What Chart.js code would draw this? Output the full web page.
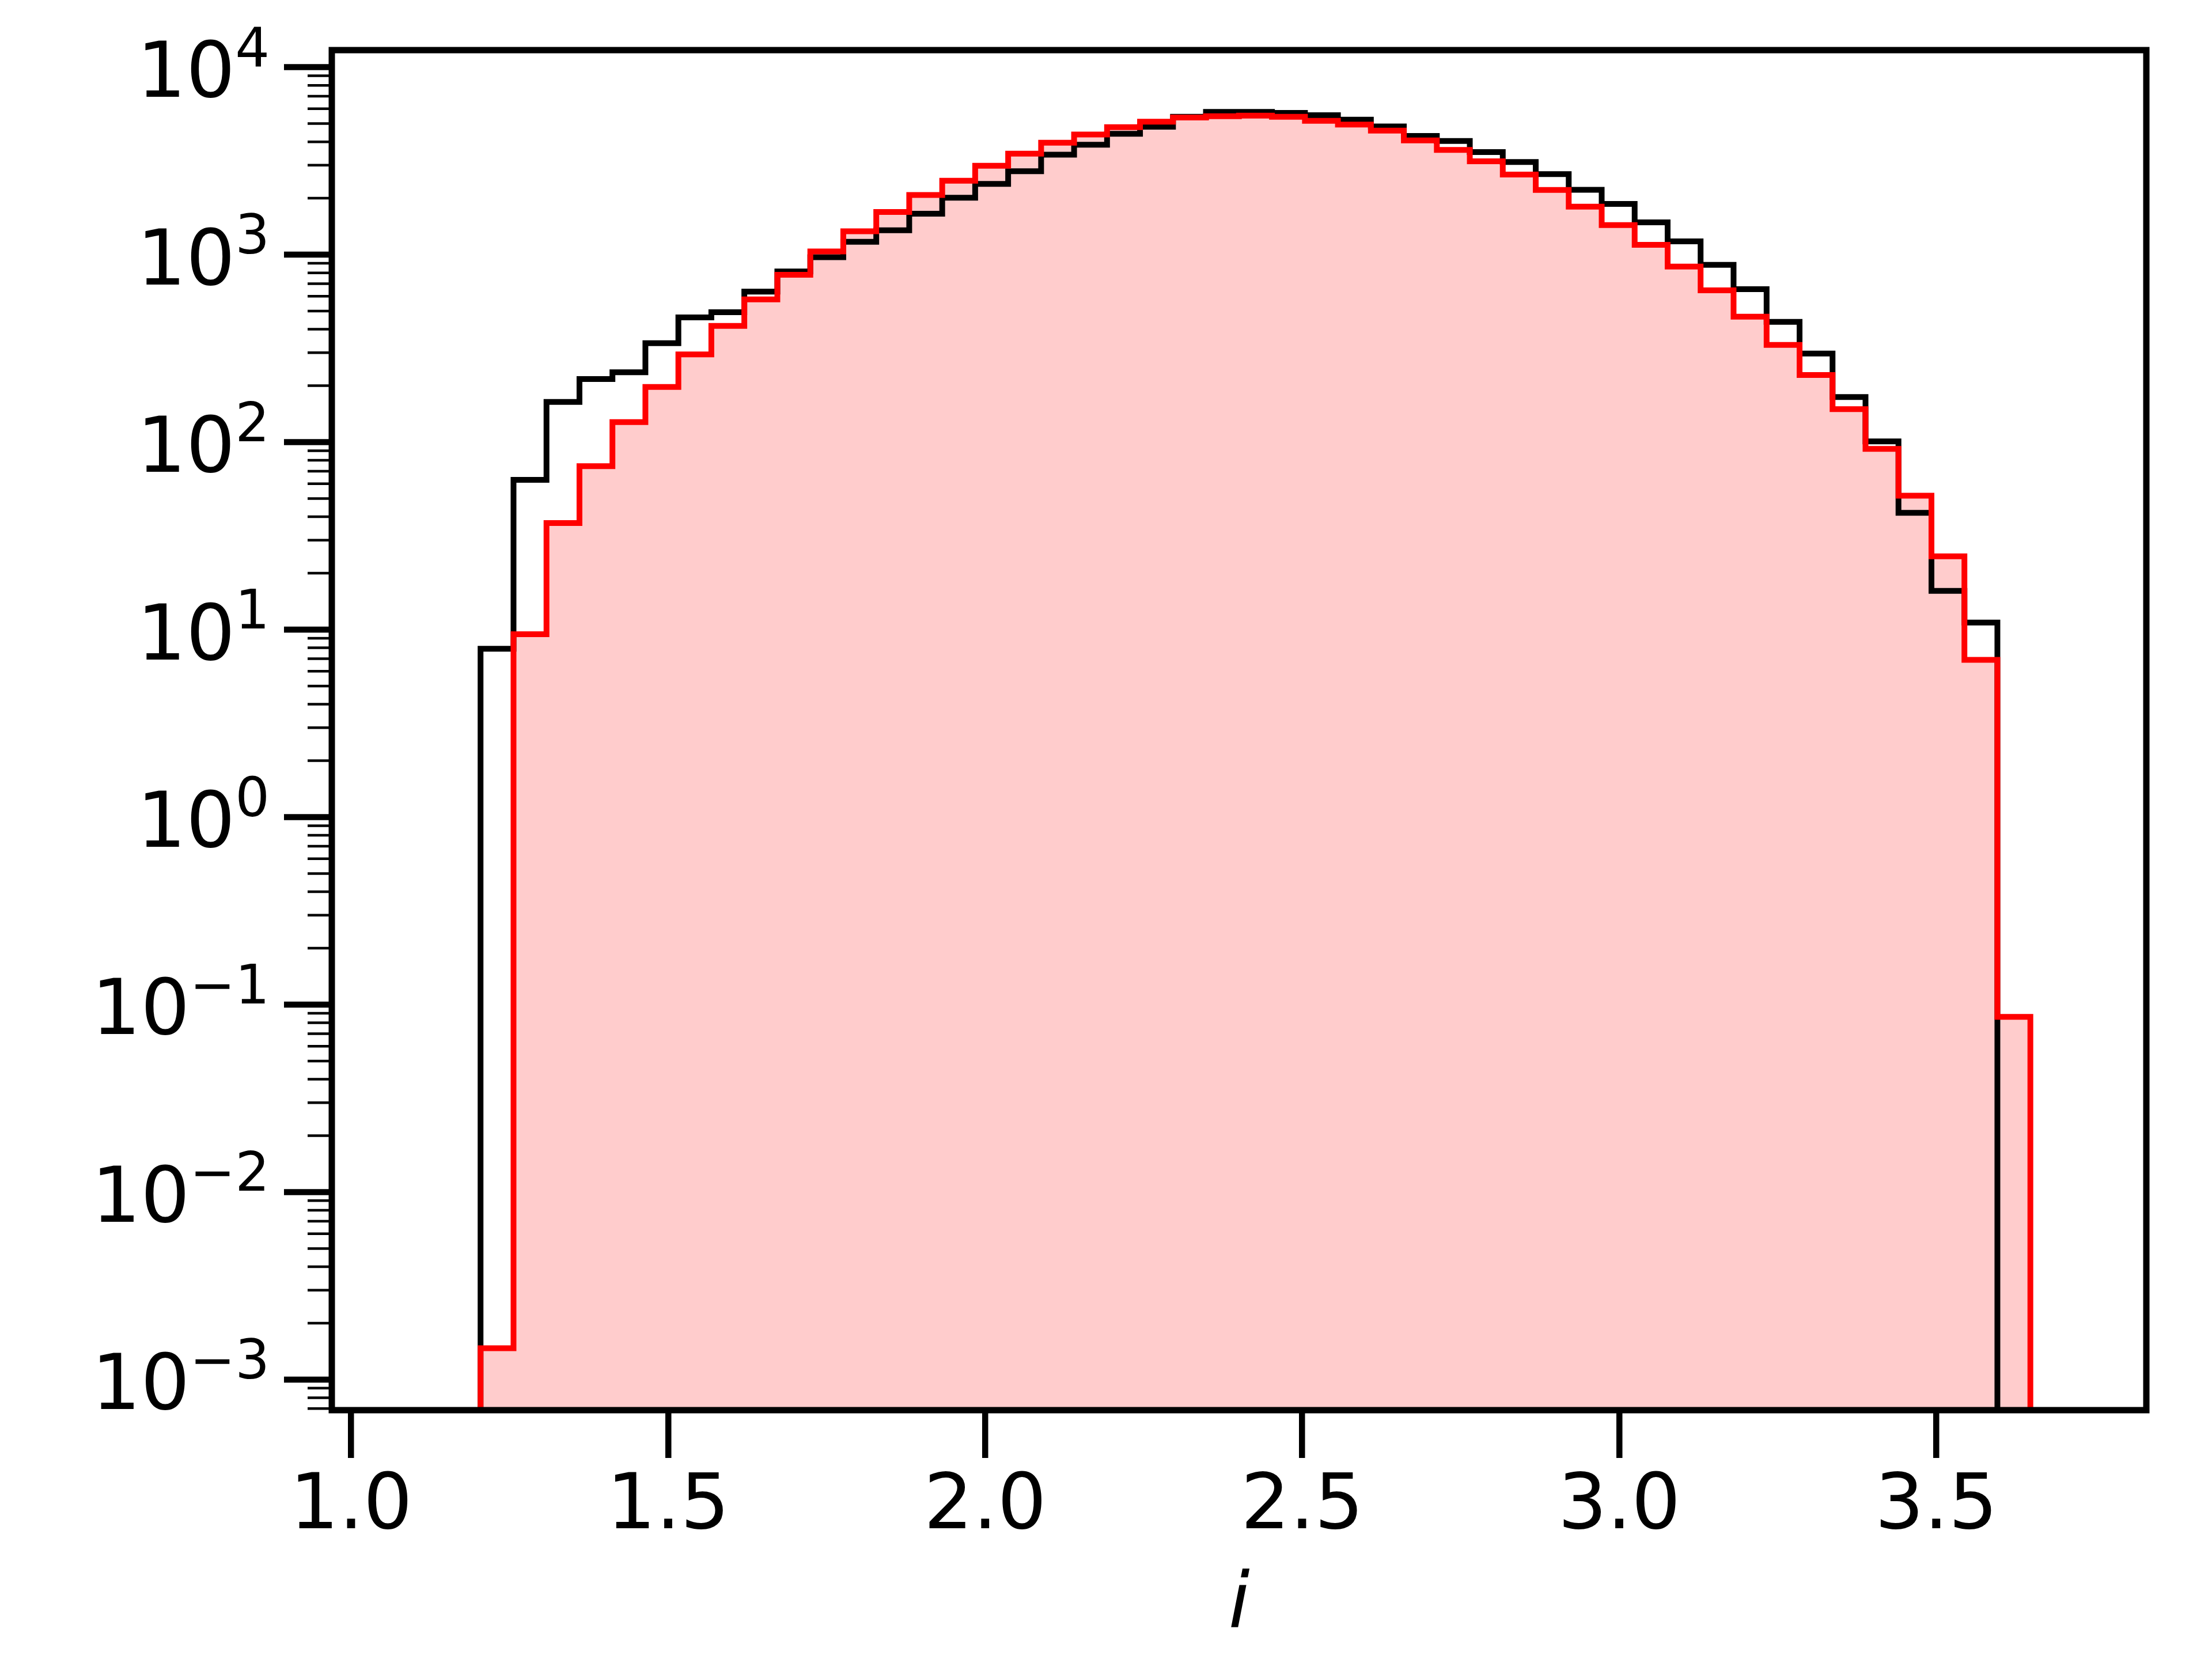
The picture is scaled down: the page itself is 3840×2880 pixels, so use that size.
<!DOCTYPE html>
<html>
<head>
<meta charset="utf-8">
<script src="https://cdn.jsdelivr.net/npm/chart.js@4"></script>
<style>
  html, body { margin: 0; padding: 0; background: #fff; }
  canvas { display: block; }
</style>
</head>
<body>
<canvas id="chart" width="3840" height="2880"></canvas>
<script>
// histogram bin edges along i
const binEdges = [
  1.2041, 1.2561, 1.3081, 1.3601, 1.4121, 1.4641, 1.5161, 1.5681, 1.6201, 1.6722,
  1.7242, 1.7762, 1.8282, 1.8802, 1.9322, 1.9842, 2.0362, 2.0882, 2.1402, 2.1922,
  2.2442, 2.2962, 2.3482, 2.4002, 2.4523, 2.5043, 2.5563, 2.6083, 2.6603, 2.7123,
  2.7643, 2.8163, 2.8683, 2.9203, 2.9723, 3.0243, 3.0763, 3.1283, 3.1803, 3.2324,
  3.2844, 3.3364, 3.3884, 3.4404, 3.4924, 3.5444, 3.5964, 3.6484
];
// black outline histogram (counts per bin)
const blackCounts = [
  7.9, 63, 164, 217, 236, 337, 463, 493, 635, 813,
  970, 1172, 1349, 1653, 2014, 2383, 2788, 3412, 3855, 4415,
  4813, 5433, 5770, 5770, 5700, 5541, 5248, 4826, 4296, 4036,
  3527, 3120, 2691, 2219, 1866, 1487, 1177, 883, 654, 438,
  297, 174, 101, 42, 16.1, 10.9, 0
];
// red filled histogram (counts per bin)
const redCounts = [
  0.00147, 9.45, 37, 74.5, 128, 197, 294, 417, 577, 781,
  1040, 1332, 1690, 2080, 2481, 2980, 3460, 3952, 4376, 4786,
  5123, 5393, 5480, 5510, 5433, 5177, 4946, 4584, 4069, 3623,
  3148, 2676, 2212, 1803, 1439, 1129, 864, 645, 467, 330,
  228, 150, 92, 51.8, 24.6, 6.9, 0.086
];
const xTicks = [1.0, 1.5, 2.0, 2.5, 3.0, 3.5];
const yExponents = [-3, -2, -1, 0, 1, 2, 3, 4];
const xLabel = 'i';

const FONT = 'DejaVu Sans';
const FS = 134;           // tick label size
const SUP = 94;           // exponent size
const EMPTY = 1e-6;       // empty bins: below the bottom of the log axis

Chart.defaults.font.family = FONT;
Chart.defaults.color = '#000';

function stepPoints(counts) {
  const pts = [{ x: binEdges[0], y: EMPTY }];
  counts.forEach((c, i) => pts.push({ x: binEdges[i], y: c > 0 ? c : EMPTY }));
  pts.push({ x: binEdges[counts.length], y: EMPTY });
  return pts;
}

// spines, y ticks (major + minor) and 10^n labels
const frame = {
  id: 'frame',
  afterDatasetsDraw(chart) {
    const { ctx, chartArea: a, scales: { y } } = chart;
    ctx.save();
    ctx.strokeStyle = '#000';
    ctx.lineCap = 'butt';
    for (let e = -4; e <= 4; e++) {
      for (let m = 1; m <= 9; m++) {
        const v = m * Math.pow(10, e);
        if (v < y.min || v > y.max) continue;
        const py = y.getPixelForValue(v);
        const len = m === 1 ? 83 : 42;
        ctx.lineWidth = m === 1 ? 10.5 : 4.5;
        ctx.beginPath();
        ctx.moveTo(a.left - len, py);
        ctx.lineTo(a.left, py);
        ctx.stroke();
      }
    }
    ctx.lineWidth = 11;
    ctx.lineJoin = 'miter';
    ctx.strokeRect(a.left, a.top, a.right - a.left, a.bottom - a.top);

    ctx.fillStyle = '#000';
    ctx.textBaseline = 'alphabetic';
    yExponents.forEach(e => {
      const py = y.getPixelForValue(Math.pow(10, e));
      const sup = String(e).replace('-', '\u2212');
      ctx.font = SUP + 'px "' + FONT + '"';
      const w = ctx.measureText(sup).width;
      const x0 = 468 - w;
      ctx.textAlign = 'left';
      ctx.fillText(sup, x0, py - 2);
      ctx.font = FS + 'px "' + FONT + '"';
      ctx.textAlign = 'right';
      ctx.fillText('10', x0, py + 51.5);
    });
    ctx.restore();
  }
};

new Chart(document.getElementById('chart'), {
  type: 'line',
  data: {
    datasets: [
      {
        label: 'red',
        data: stepPoints(redCounts),
        borderColor: '#ff0000',
        backgroundColor: 'rgba(255,0,0,0.2)',
        borderWidth: 10,
        fill: 'start',
        stepped: 'before',
        pointRadius: 0,
        order: 0
      },
      {
        label: 'black',
        data: stepPoints(blackCounts),
        borderColor: '#000000',
        borderWidth: 10,
        fill: false,
        stepped: 'before',
        pointRadius: 0,
        order: 1
      }
    ]
  },
  options: {
    responsive: false,
    devicePixelRatio: 1,
    animation: false,
    layout: { padding: { left: 0, top: 87, right: 114, bottom: 0 } },
    plugins: {
      legend: { display: false },
      tooltip: { enabled: false },
      filler: { drawTime: 'beforeDatasetsDraw' }
    },
    scales: {
      x: {
        type: 'linear',
        min: 0.9695,
        max: 3.8313,
        afterBuildTicks: s => { s.ticks = xTicks.map(v => ({ value: v })); },
        afterFit: s => { s.height = 432; },
        grid: {
          display: true,
          drawOnChartArea: false,
          drawTicks: true,
          tickLength: 83,
          lineWidth: 10.5,
          color: '#000'
        },
        border: { display: false },
        ticks: {
          font: { size: FS },
          color: '#000',
          padding: 7,
          maxRotation: 0,
          callback: v => Number(v).toFixed(1)
        },
        title: {
          display: true,
          text: xLabel,
          font: { size: FS, style: 'italic' },
          color: '#000',
          padding: { top: 0, bottom: 9 }
        }
      },
      y: {
        type: 'logarithmic',
        min: Math.pow(10, -3.163),
        max: Math.pow(10, 4.091),
        afterFit: s => { s.width = 576; },
        grid: { display: false },
        border: { display: false },
        ticks: { display: false }
      }
    }
  },
  plugins: [frame]
});
</script>
</body>
</html>
